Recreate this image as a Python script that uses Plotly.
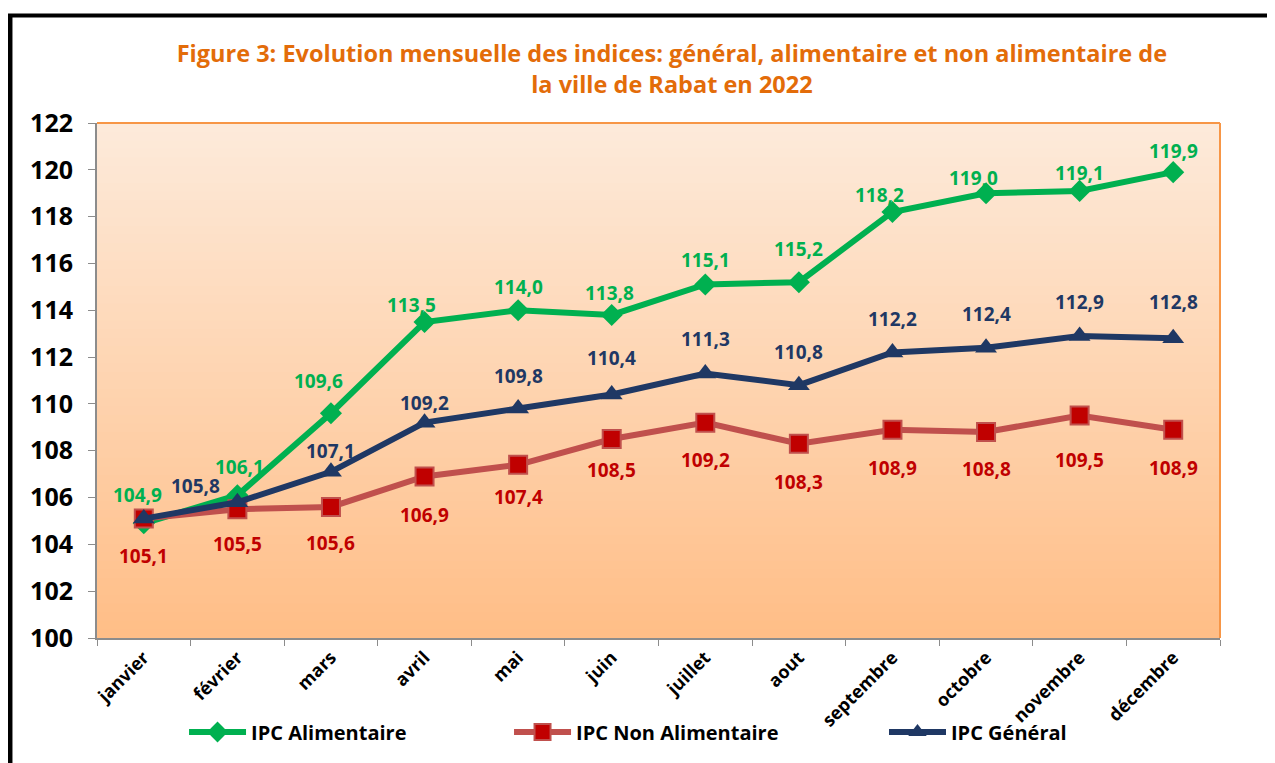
import plotly.graph_objects as go

months = ["janvier", "février", "mars", "avril", "mai", "juin", "juillet",
          "aout", "septembre", "octobre", "novembre", "décembre"]
ipc_alim = [104.9, 106.1, 109.6, 113.5, 114.0, 113.8, 115.1, 115.2, 118.2, 119.0, 119.1, 119.9]
ipc_non_alim = [105.1, 105.5, 105.6, 106.9, 107.4, 108.5, 109.2, 108.3, 108.9, 108.8, 109.5, 108.9]
ipc_general = [105.1, 105.8, 107.1, 109.2, 109.8, 110.4, 111.3, 110.8, 112.2, 112.4, 112.9, 112.8]
y_ticks = [100, 102, 104, 106, 108, 110, 112, 114, 116, 118, 120, 122]

# label offsets (pixels) as placed in the original chart
alim_dx = [-6, 2, -12, -13, 0, -2, 0, 0, -13, -13, 0, 0]
alim_dy = [28, 28, 32, 17, 23, 22, 25, 33, 17, 15, 18, 21]
non_dy = [-37, -35, -36, -39, -32, -31, -37, -38, -38, -37, -44, -38]
gen_dx = [0, -42, 0, 0, 0, 0, 0, 0, 0, 0, 0, 0]
gen_dy = [0, 16, 21, 20, 33, 37, 34, 33, 33, 34, 34, 36]
gen_show = [False] + [True] * 11

GREEN = "#00B050"
RED_LINE = "#C0504D"
RED_MARK = "#C00000"
NAVY = "#1F3864"
FONT = "Open Sans"

def fmt(v):
    return f"{v:.1f}".replace(".", ",")

fig = go.Figure()
fig.add_trace(go.Scatter(
    x=months, y=ipc_alim, name="IPC Alimentaire", mode="lines+markers", legend="legend",
    line=dict(color=GREEN, width=6),
    marker=dict(symbol="diamond", size=17, color=GREEN)))
fig.add_trace(go.Scatter(
    x=months, y=ipc_non_alim, name="IPC Non Alimentaire", mode="lines+markers", legend="legend2",
    line=dict(color=RED_LINE, width=6),
    marker=dict(symbol="square", size=18, color=RED_MARK, line=dict(color=RED_LINE, width=2))))
fig.add_trace(go.Scatter(
    x=months, y=ipc_general, name="IPC Général", mode="lines+markers", legend="legend3",
    line=dict(color=NAVY, width=6),
    marker=dict(symbol="triangle-up", size=19, color=NAVY)))

LBL = 19
annotations = []
for i, m in enumerate(months):
    annotations.append(dict(x=m, y=ipc_alim[i], xref="x", yref="y", text=fmt(ipc_alim[i]),
                            showarrow=False, yshift=alim_dy[i], xshift=alim_dx[i],
                            font=dict(family=FONT, size=LBL, color=GREEN, weight="bold")))
    annotations.append(dict(x=m, y=ipc_non_alim[i], xref="x", yref="y", text=fmt(ipc_non_alim[i]),
                            showarrow=False, yshift=non_dy[i],
                            font=dict(family=FONT, size=LBL, color=RED_MARK, weight="bold")))
    if gen_show[i]:
        annotations.append(dict(x=m, y=ipc_general[i], xref="x", yref="y", text=fmt(ipc_general[i]),
                                showarrow=False, yshift=gen_dy[i], xshift=gen_dx[i],
                                font=dict(family=FONT, size=LBL, color=NAVY, weight="bold")))

# gradient background bands
shapes = []
n = 60
top = (253, 234, 218)
bot = (255, 190, 135)
for k in range(n):
    t = k / (n - 1)
    c = tuple(round(top[j] + (bot[j] - top[j]) * t) for j in range(3))
    shapes.append(dict(type="rect", xref="x domain", yref="y domain",
                       x0=0, x1=1, y0=max(0, 1 - (k + 1.6) / n), y1=1 - k / n,
                       fillcolor=f"rgb{c}", line=dict(width=0), layer="below"))
# orange border on top and right of plot area
shapes.append(dict(type="line", xref="x domain", yref="y domain", x0=0, x1=1, y0=1, y1=1,
                   line=dict(color="#F79646", width=2)))
shapes.append(dict(type="line", xref="x domain", yref="y domain", x0=1, x1=1, y0=0, y1=1,
                   line=dict(color="#F79646", width=2)))
# black frame around the chart (left and top)
shapes.append(dict(type="line", xref="paper", yref="paper", x0=-0.0775, x1=-0.0775, y0=-0.3, y1=1.211,
                   line=dict(color="black", width=5)))
shapes.append(dict(type="line", xref="paper", yref="paper", x0=-0.0797, x1=1.1, y0=1.2087, y1=1.2087,
                   line=dict(color="black", width=4)))

leg_common = dict(orientation="h", xanchor="left", y=-0.1825, yanchor="middle", itemwidth=57,
                  font=dict(family=FONT, size=20, color="black", weight="bold"),
                  bgcolor="rgba(0,0,0,0)")

W, H = 1267, 755
fig.update_layout(
    width=W, height=H,
    margin=dict(l=89, r=55, t=115, b=125, autoexpand=False),
    paper_bgcolor="white", plot_bgcolor="rgba(0,0,0,0)",
    title=dict(text="Figure 3: Evolution mensuelle des indices: général, alimentaire et non alimentaire de<br>la ville de Rabat en 2022",
               x=0.524, xanchor="center", y=0.928, yanchor="middle", xref="container", yref="container",
               font=dict(family=FONT, size=23.5, color="#E36C09", weight="bold")),
    showlegend=True,
    legend=dict(x=0.0775, **leg_common),
    legend2=dict(x=0.3669, **leg_common),
    legend3=dict(x=0.7008, **leg_common),
    xaxis=dict(type="category", range=[-0.5, 11.5], showgrid=False, showline=True,
               linecolor="#8C8C8C", linewidth=2, ticks="outside", tickson="boundaries",
               tickcolor="#8C8C8C", ticklen=6, tickangle=-45, automargin=False,
               tickfont=dict(family=FONT, size=18, color="black", weight="bold")),
    yaxis=dict(range=[100, 122], tickvals=y_ticks, showgrid=False, showline=True,
               linecolor="#8C8C8C", linewidth=2, ticks="outside", tickcolor="#8C8C8C", ticklen=7,
               automargin=False, ticklabelstandoff=10,
               tickfont=dict(family=FONT, size=25, color="black", weight="bold"), zeroline=False),
    annotations=annotations, shapes=shapes,
)

fig.write_html("out.html")
